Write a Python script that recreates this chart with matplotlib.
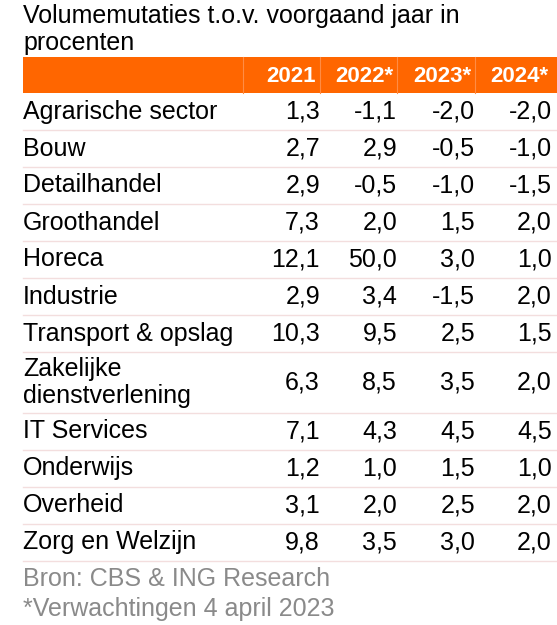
import matplotlib.pyplot as plt
from matplotlib.patches import Rectangle

title_lines = ["Volumemutaties t.o.v. voorgaand jaar in", "procenten"]
years = ["2021", "2022*", "2023*", "2024*"]
sectors = [
    "Agrarische sector", "Bouw", "Detailhandel", "Groothandel", "Horeca",
    "Industrie", "Transport & opslag", "Zakelijke\ndienstverlening",
    "IT Services", "Onderwijs", "Overheid", "Zorg en Welzijn",
]
values = [
    ["1,3", "-1,1", "-2,0", "-2,0"],
    ["2,7", "2,9", "-0,5", "-1,0"],
    ["2,9", "-0,5", "-1,0", "-1,5"],
    ["7,3", "2,0", "1,5", "2,0"],
    ["12,1", "50,0", "3,0", "1,0"],
    ["2,9", "3,4", "-1,5", "2,0"],
    ["10,3", "9,5", "2,5", "1,5"],
    ["6,3", "8,5", "3,5", "2,0"],
    ["7,1", "4,3", "4,5", "4,5"],
    ["1,2", "1,0", "1,5", "1,0"],
    ["3,1", "2,0", "2,5", "2,0"],
    ["9,8", "3,5", "3,0", "2,0"],
]
footnotes = ["Bron: CBS & ING Research", "*Verwachtingen 4 april 2023"]

ORANGE = "#ff6600"
LINE = "#f3dede"
GREY = "#8a8a8a"
FONT = "Liberation Sans"

W, H = 557, 625
fig = plt.figure(figsize=(W / 100, H / 100), dpi=100)
ax = fig.add_axes([0, 0, 1, 1])
ax.set_xlim(0, W)
ax.set_ylim(H, 0)
ax.axis("off")

left = 23
col_edges = [243, 320, 397, 475]   # header separators
val_right = [320, 397, 475, 552]   # right edge of numbers
fs = 18

# title
for i, line in enumerate(title_lines):
    ax.text(left, 16 + i * 27, line, fontsize=fs, family=FONT,
            va="center", ha="left", color="black")

# header band
head_top, head_bot = 57, 93
ax.add_patch(Rectangle((left, head_top), W - left, head_bot - head_top,
                       facecolor=ORANGE, edgecolor="none"))
for x in col_edges:
    ax.plot([x, x], [head_top, head_bot], color="#ff8c45", lw=0.8)
for j, yr in enumerate(years):
    ax.text(val_right[j] - 4, (head_top + head_bot) / 2 + 1, yr,
            fontsize=16, family=FONT, fontweight="bold", color="white",
            ha="right", va="center")

# rows
y = head_bot
for name, row in zip(sectors, values):
    h = 61 if "\n" in name else 37
    yc = y + h / 2
    ax.text(left, yc, name, fontsize=fs, family=FONT, ha="left",
            va="center", linespacing=1.12)
    for j, v in enumerate(row):
        ax.text(val_right[j], yc, v, fontsize=fs, family=FONT,
                ha="right", va="center")
    y += h
    ax.plot([left, W], [y, y], color=LINE, lw=1)

# footnotes
for i, note in enumerate(footnotes):
    ax.text(left, y + 18 + i * 30, note, fontsize=fs, family=FONT,
            color=GREY, ha="left", va="center")

fig.savefig("out.png", dpi=100)
